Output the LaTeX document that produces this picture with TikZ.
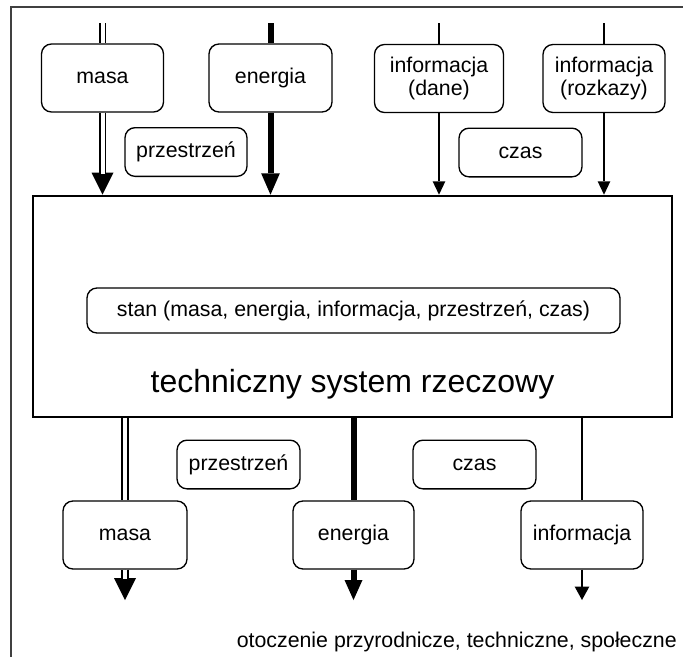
\documentclass[tikz,border=0pt]{standalone}
\usepackage{fontspec}
\setmainfont{Liberation Sans}
\usetikzlibrary{arrows.meta}
\begin{document}
\begin{tikzpicture}[x=0.75pt,y=-0.75pt,
  rbox/.style={draw, rounded corners=7.5pt, line width=1pt, inner sep=0pt, align=center,
    minimum width=91.5pt, minimum height=51pt, font=\fontsize{16}{17.5}\selectfont},
  sbox/.style={rbox, minimum height=36.5pt},
  mainbox/.style={draw, line width=1.9pt, minimum width=479.25pt, minimum height=165.75pt, inner sep=0pt},
  dbl/.style={draw, line width=1.2pt, double, double distance=3pt},
  thinline/.style={draw, line width=1pt},
  thickline/.style={draw, line width=4.5pt},
  frameline/.style={draw=black!75, line width=0.8pt},
  bigtip/.style={-{Triangle[length=16.5pt,width=16.5pt,line width=0pt]}},
  entip/.style={-{Triangle[length=16pt,width=14pt,line width=0pt]}},
  smalltip/.style={-{Triangle[length=10pt,width=9.5pt,line width=0pt]}},
  plaintext/.style={inner sep=0pt, font=\fontsize{16}{17.5}\selectfont}
]
\useasboundingbox (0,0) rectangle (683,657);
% outer frame (only top and left visible)
\coordinate (fa) at (11,657);
\coordinate (fb) at (11,7);
\coordinate (fc) at (683,7);
\draw[frameline] (fa) -- (fb) -- (fc);

% main system box
\node[mainbox] (main) at (352.5,306.5) {};
\node[rbox, minimum width=399.75pt, minimum height=33.75pt] (stan) at (353.5,310.5)
  {stan (masa, energia, informacja, przestrzeń, czas)};
\node[inner sep=0pt, anchor=base, font=\fontsize{24}{28}\selectfont] (title) at (352.5,392)
  {techniczny system rzeczowy};

% top boxes
\node[rbox] (tm) at (102.5,78) {masa};
\node[rbox, minimum width=92.25pt] (te) at (270.5,78) {energia};
\node[rbox, minimum width=96.75pt] (tid) at (439,78.5) {informacja\\(dane)};
\node[rbox] (tir) at (604,78.5) {informacja\\(rozkazy)};
\node[sbox] (tp) at (186,152) {przestrzeń};
\node[sbox, minimum width=92.25pt] (tc) at (520.5,152.5) {czas};

% bottom boxes
\node[sbox, minimum width=92.25pt] (bp) at (238.5,464.5) {przestrzeń};
\node[sbox, minimum width=92.25pt] (bc) at (474.5,464.5) {czas};
\node[rbox, minimum width=93pt] (bm) at (125,535) {masa};
\node[rbox, minimum width=90.75pt] (be) at (353.5,535) {energia};
\node[rbox] (bi) at (582,535) {informacja};

\node[plaintext, anchor=base east] (env) at (677,647)
  {otoczenie przyrodnicze, techniczne, społeczne};

% free ends
\coordinate (ti1) at (102.5,23);
\coordinate (ti2) at (270.5,23);
\coordinate (ti3) at (439,23);
\coordinate (ti4) at (604,23);
\coordinate (bo1) at (125,600);
\coordinate (bo2) at (353.5,600);
\coordinate (bo3) at (582,600);

% top inputs
\draw[dbl] (ti1) -- (tm.north);
\draw[thinline, bigtip] (tm.south) -- (tm.south |- main.north);
\draw[dbl, shorten >=15.5pt] (tm.south) -- (tm.south |- main.north);

\draw[thickline] (ti2) -- (te.north);
\draw[thickline, entip] (te.south) -- (te.south |- main.north);

\draw[thinline] (ti3) -- (tid.north);
\draw[thinline, smalltip] (tid.south) -- (tid.south |- main.north);

\draw[thinline] (ti4) -- (tir.north);
\draw[thinline, smalltip] (tir.south) -- (tir.south |- main.north);

% bottom outputs
\draw[dbl] (bm.north |- main.south) -- (bm.north);
\draw[thinline, bigtip] (bm.south) -- (bo1);
\draw[dbl, shorten >=15.5pt] (bm.south) -- (bo1);

\draw[thickline] (be.north |- main.south) -- (be.north);
\draw[thickline, -{Triangle[length=15pt,width=13.5pt,line width=0pt]}] (be.south) -- (bo2);

\draw[thinline] (bi.north |- main.south) -- (bi.north);
\draw[thinline, -{Triangle[length=10pt,width=11pt,line width=0pt]}] (bi.south) -- (bo3);
\end{tikzpicture}
\end{document}
